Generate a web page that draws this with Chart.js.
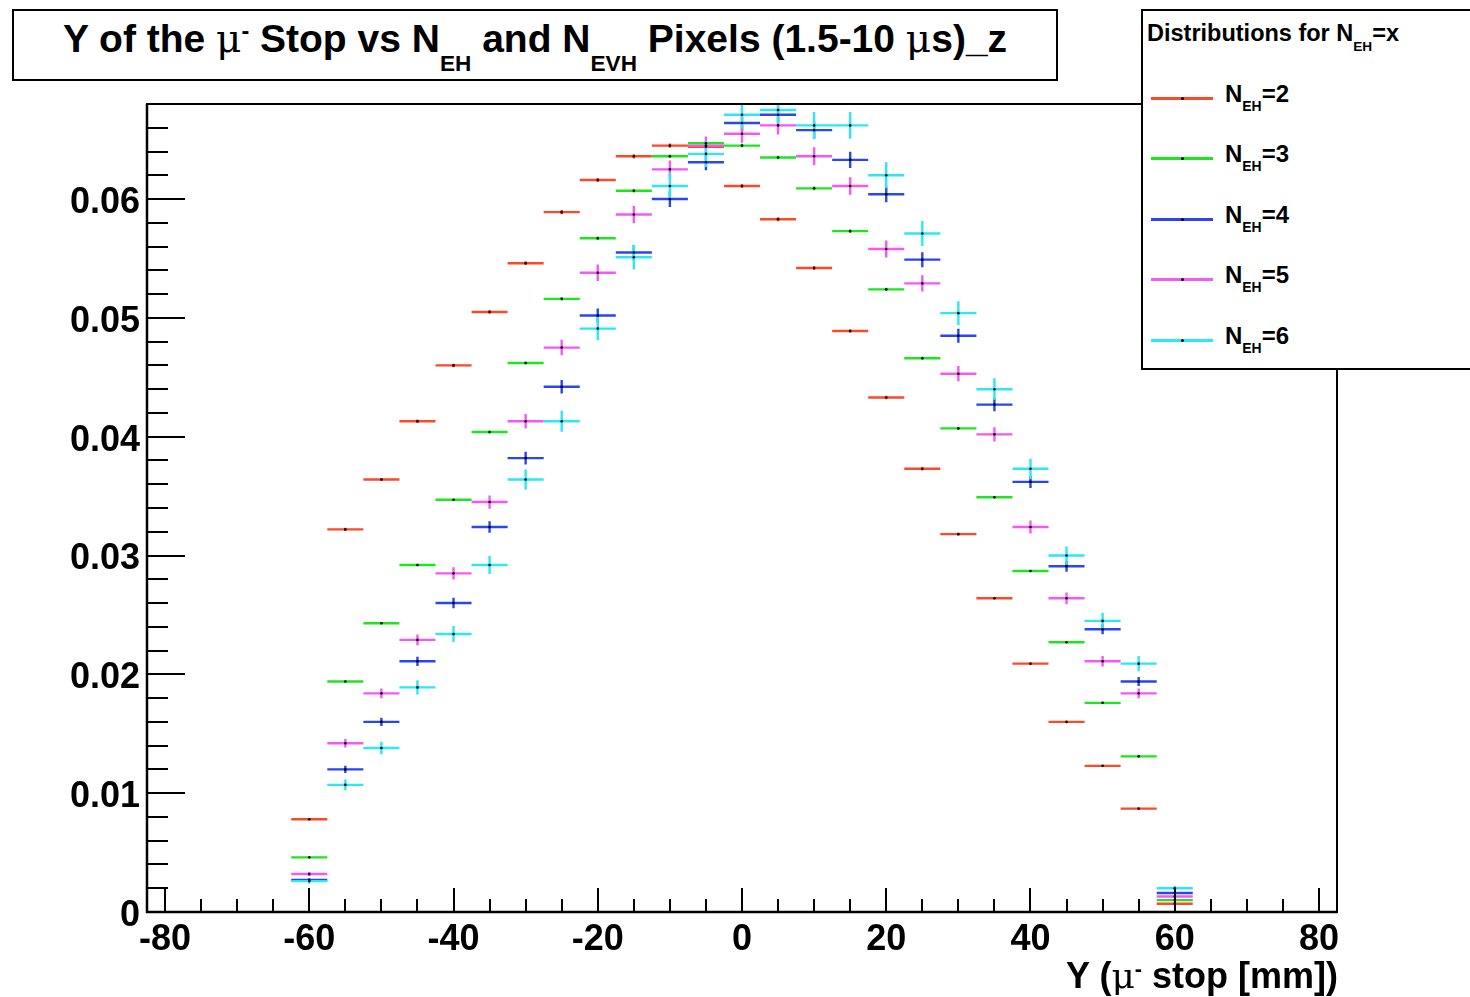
<!DOCTYPE html>
<html>
<head>
<meta charset="utf-8">
<title>Y of the mu- Stop vs NEH and NEVH Pixels</title>
<script src="https://cdn.jsdelivr.net/npm/chart.js@4.4.1/dist/chart.umd.min.js"></script>
<style>
html, body { margin: 0; padding: 0; background: #fff; }
#wrap { position: relative; width: 1470px; height: 997px; overflow: hidden;
  font-family: "Liberation Sans", Arial, Helvetica, sans-serif; font-weight: bold; color: #000; }
#chart { position: absolute; left: 0; top: 0; }
.box { position: absolute; border: 2px solid #000; background: #fff; box-sizing: border-box; }
#titleBox { left: 12px; top: 9px; width: 1046px; height: 72px; }
#titleText { position: absolute; left: 0; right: 0; top: 6px; text-align: center;
  font-size: 39px; line-height: 44px; white-space: nowrap; }
#titleText .sub { top: 0.85em; }
#legendBox { left: 1141px; top: 9px; width: 340px; height: 361px; }
#legendHead { position: absolute; left: 1147px; top: 20px; font-size: 23.5px; line-height: 26px; white-space: nowrap; }
#legendHead .sub { top: 0.7em; }
.legRow { position: absolute; left: 1151px; width: 300px; height: 2px; }
.legLine { position: absolute; left: 0; top: -1px; width: 62px; height: 3px; }
.legDot { position: absolute; left: 30px; top: -1px; width: 3px; height: 3px; background: #000; border-radius: 50%; }
.legText { position: absolute; left: 74px; top: -18px; font-size: 24px; line-height: 27px; white-space: nowrap; }
.legText .sub { top: 0.65em; }
#xTitle { position: absolute; right: 132px; top: 956px; font-size: 36px; line-height: 40px; white-space: nowrap; }
.mu { font-family: "DejaVu Serif", "Liberation Serif", serif; font-weight: normal; }
.sub { position: relative; font-size: 0.58em; top: 0.5em; }
.sup { position: relative; font-size: 0.6em; top: -0.55em; }
</style>
</head>
<body>
<div id="wrap">
  <canvas id="chart" width="1470" height="997"></canvas>
  <div class="box" id="titleBox">
    <div id="titleText">Y of the <span class="mu">μ</span><span class="sup">-</span> Stop vs N<span class="sub">EH</span> and N<span class="sub">EVH</span> Pixels (1.5-10 <span class="mu">μ</span>s)_z</div>
  </div>
  <div class="box" id="legendBox"></div>
  <div id="legendHead">Distributions for N<span class="sub">EH</span>=x</div>
  <div id="legendRows"></div>
  <div id="xTitle">Y (<span class="mu">μ</span><span class="sup">-</span> stop [mm])</div>
</div>
<script>
// Bin centres (mm) and bin width of the histograms.
var binCenters = [-60, -55, -50, -45, -40, -35, -30, -25, -20, -15, -10, -5, 0,
  5, 10, 15, 20, 25, 30, 35, 40, 45, 50, 55, 60];
var binWidth = 5;

var nehValues = ['2', '3', '4', '5', '6'];
var seriesColors = ['#fa4a2a', '#1ee61e', '#2846f2', '#f658f6', '#2ae8f5'];

// Normalised counts per bin.
var yNEH2 = [0.0078, 0.0322, 0.0364, 0.0413, 0.0460, 0.0505, 0.0546, 0.0589, 0.0616, 0.0636, 0.0645, 0.0644, 0.0611,
  0.0583, 0.0542, 0.0489, 0.0433, 0.0373, 0.0318, 0.0264, 0.0209, 0.0160, 0.0123, 0.0087, 0.0007];
var yNEH3 = [0.0046, 0.0194, 0.0243, 0.0292, 0.0347, 0.0404, 0.0462, 0.0516, 0.0567, 0.0607, 0.0636, 0.0647, 0.0645,
  0.0635, 0.0609, 0.0573, 0.0524, 0.0466, 0.0407, 0.0349, 0.0287, 0.0227, 0.0176, 0.0131, 0.0010];
var yNEH4 = [0.0027, 0.0120, 0.0160, 0.0211, 0.0260, 0.0324, 0.0382, 0.0442, 0.0502, 0.0555, 0.0600, 0.0631, 0.0664,
  0.0671, 0.0658, 0.0633, 0.0604, 0.0549, 0.0485, 0.0427, 0.0362, 0.0291, 0.0238, 0.0194, 0.0016];
var yNEH5 = [0.0032, 0.0142, 0.0184, 0.0229, 0.0285, 0.0345, 0.0413, 0.0475, 0.0538, 0.0587, 0.0625, 0.0645, 0.0655,
  0.0662, 0.0636, 0.0611, 0.0558, 0.0529, 0.0453, 0.0402, 0.0324, 0.0264, 0.0211, 0.0184, 0.0013];
var yNEH6 = [0.0026, 0.0107, 0.0138, 0.0189, 0.0234, 0.0292, 0.0364, 0.0413, 0.0491, 0.0551, 0.0611, 0.0638, 0.0671,
  0.0675, 0.0662, 0.0662, 0.0620, 0.0571, 0.0504, 0.0440, 0.0373, 0.0300, 0.0245, 0.0209, 0.0020];

// Vertical error bars (half length).
var errNEH2 = [0.00006, 0.00013, 0.00013, 0.00014, 0.00015, 0.00016, 0.00016, 0.00017, 0.00017, 0.00018, 0.00018, 0.00018, 0.00017,
  0.00017, 0.00016, 0.00015, 0.00015, 0.00014, 0.00012, 0.00011, 0.0001, 0.00009, 0.00008, 0.00007, 0.00002];
var errNEH3 = [0.00004, 0.00008, 0.00009, 0.0001, 0.00011, 0.00012, 0.00013, 0.00014, 0.00014, 0.00015, 0.00015, 0.00015, 0.00015,
  0.00015, 0.00015, 0.00014, 0.00014, 0.00013, 0.00012, 0.00011, 0.0001, 0.00009, 0.00008, 0.00007, 0.00002];
var errNEH4 = [0.00014, 0.0003, 0.00034, 0.00039, 0.00044, 0.00049, 0.00053, 0.00057, 0.0006, 0.00064, 0.00066, 0.00068, 0.0007,
  0.0007, 0.0007, 0.00068, 0.00066, 0.00063, 0.00059, 0.00056, 0.00051, 0.00046, 0.00042, 0.00038, 0.00011];
var errNEH5 = [0.00017, 0.00036, 0.00041, 0.00045, 0.00051, 0.00056, 0.00061, 0.00065, 0.0007, 0.00073, 0.00075, 0.00076, 0.00077,
  0.00077, 0.00076, 0.00074, 0.00071, 0.00069, 0.00064, 0.0006, 0.00054, 0.00049, 0.00044, 0.00041, 0.00011];
var errNEH6 = [0.00022, 0.00045, 0.00052, 0.0006, 0.00067, 0.00075, 0.00084, 0.00089, 0.00098, 0.00103, 0.00109, 0.00111, 0.00114,
  0.00114, 0.00113, 0.00113, 0.0011, 0.00105, 0.00099, 0.00092, 0.00085, 0.00076, 0.00069, 0.00064, 0.0002];

// Axis tick labels.
var xTickLabels = [-80, -60, -40, -20, 0, 20, 40, 60, 80];
var yTickLabels = [0, 0.01, 0.02, 0.03, 0.04, 0.05, 0.06];

var allY = [yNEH2, yNEH3, yNEH4, yNEH5, yNEH6];
var allErr = [errNEH2, errNEH3, errNEH4, errNEH5, errNEH6];

function points(ys, errs) {
  return binCenters.map(function(x, i) { return { x: x, y: ys[i], err: errs[i] }; });
}

var datasets = allY.map(function(ys, i) {
  return {
    label: 'NEH=' + nehValues[i],
    data: points(ys, allErr[i]),
    borderColor: seriesColors[i],
    backgroundColor: '#000',
    pointRadius: 1.3,
    pointBorderWidth: 0,
    showLine: false
  };
});

var axisFont = { family: '"Liberation Sans", Arial, sans-serif', size: 36, weight: 'bold' };

// ROOT style error bars, frame and inner ticks.
var rootStyle = {
  id: 'rootStyle',
  beforeDatasetsDraw: function(chart) {
    var ctx = chart.ctx, xs = chart.scales.x, ys = chart.scales.y, a = chart.chartArea;
    ctx.save();
    ctx.beginPath();
    ctx.rect(a.left, a.top, a.right - a.left, a.bottom - a.top);
    ctx.clip();
    ctx.lineWidth = 2.4;
    chart.data.datasets.forEach(function(ds) {
      ctx.strokeStyle = ds.borderColor;
      ds.data.forEach(function(p) {
        var xc = xs.getPixelForValue(p.x);
        var x0 = xs.getPixelForValue(p.x - binWidth / 2);
        var x1 = xs.getPixelForValue(p.x + binWidth / 2);
        var y = ys.getPixelForValue(p.y);
        ctx.beginPath();
        ctx.moveTo(x0, y); ctx.lineTo(x1, y);
        ctx.moveTo(xc, ys.getPixelForValue(p.y - p.err));
        ctx.lineTo(xc, ys.getPixelForValue(p.y + p.err));
        ctx.stroke();
      });
    });
    ctx.restore();
  },
  afterDraw: function(chart) {
    var ctx = chart.ctx, xs = chart.scales.x, ys = chart.scales.y, a = chart.chartArea;
    ctx.save();
    ctx.strokeStyle = '#000';
    ctx.lineWidth = 2;
    ctx.strokeRect(a.left, a.top, a.right - a.left, a.bottom - a.top);
    ctx.lineWidth = 2.5;
    ctx.beginPath();
    ctx.moveTo(a.left, a.top); ctx.lineTo(a.left, a.bottom); ctx.lineTo(a.right, a.bottom);
    ctx.stroke();

    ctx.lineWidth = 2;
    ctx.beginPath();
    for (var k = 0; k * 0.002 <= ys.max + 1e-9; k++) {
      var py = Math.round(ys.getPixelForValue(k * 0.002));
      ctx.moveTo(a.left, py);
      ctx.lineTo(a.left + (k % 5 === 0 ? 38 : 21), py);
    }
    for (var v = -80; v <= 80; v += 5) {
      var px = Math.round(xs.getPixelForValue(v));
      ctx.moveTo(px, a.bottom);
      ctx.lineTo(px, a.bottom - (v % 20 === 0 ? 24 : 13));
    }
    ctx.stroke();
    ctx.restore();
  }
};

var chart = new Chart(document.getElementById('chart'), {
  type: 'scatter',
  data: { datasets: datasets },
  options: {
    responsive: false,
    animation: false,
    devicePixelRatio: 1,
    events: [],
    layout: { padding: { top: 104, right: 133, left: 0, bottom: 0 } },
    plugins: { legend: { display: false }, tooltip: { enabled: false } },
    scales: {
      x: {
        type: 'linear',
        min: -82.5,
        max: 82.5,
        grid: { display: false, drawTicks: false },
        border: { display: false },
        afterBuildTicks: function(s) { s.ticks = xTickLabels.map(function(v) { return { value: v }; }); },
        afterFit: function(s) { s.height = 85; },
        ticks: { color: '#000', font: axisFont, padding: 6, maxRotation: 0, autoSkip: false,
          callback: function(v) { return String(v); } }
      },
      y: {
        min: 0,
        max: 0.068,
        grid: { display: false, drawTicks: false },
        border: { display: false },
        afterBuildTicks: function(s) { s.ticks = yTickLabels.map(function(v) { return { value: v }; }); },
        afterFit: function(s) { s.width = 147; },
        ticks: { color: '#000', font: axisFont, padding: 7, labelOffset: 4,
          callback: function(v) { return v === 0 ? '0' : v.toFixed(2); } }
      }
    }
  },
  plugins: [rootStyle]
});

// Legend built from the datasets.
var rowTops = [98, 158, 219, 279, 340];
var rows = document.getElementById('legendRows');
chart.data.datasets.forEach(function(ds, i) {
  var row = document.createElement('div');
  row.className = 'legRow';
  row.style.top = rowTops[i] + 'px';
  row.innerHTML = '<div class="legLine" style="background:' + ds.borderColor + '"></div>' +
    '<div class="legDot"></div>' +
    '<div class="legText">N<span class="sub">EH</span>=' + nehValues[i] + '</div>';
  rows.appendChild(row);
});
</script>
</body>
</html>
